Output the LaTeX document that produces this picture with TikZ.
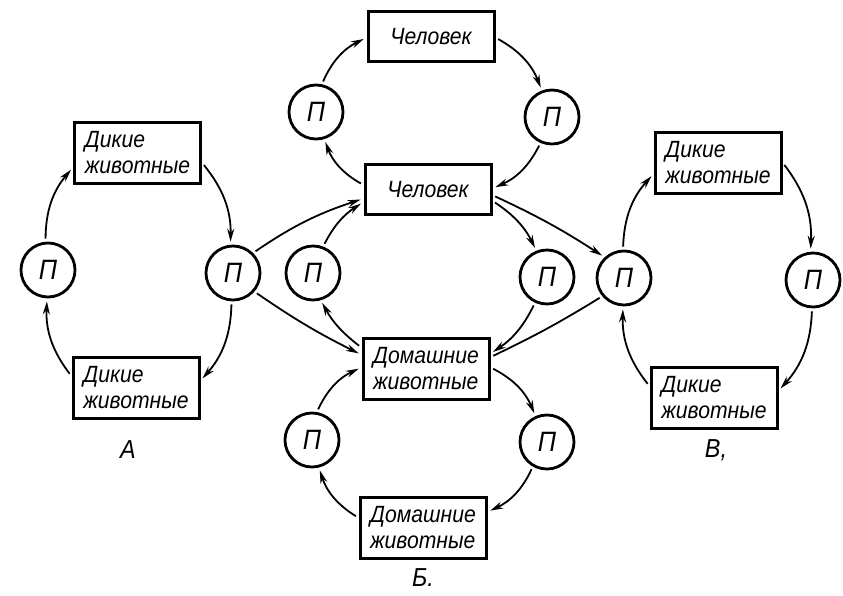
\documentclass[tikz,border=0pt]{standalone}
\usepackage{fontspec}
\usepackage{graphicx}
\setmainfont{Liberation Sans}
\usetikzlibrary{arrows.meta}
\newcommand\cx[1]{\scalebox{0.9}[1]{#1}}
\begin{document}
\begin{tikzpicture}[x=1pt,y=-1pt,
  every node/.style={font=\itshape\fontsize{23.5}{26}\selectfont},
  tbox/.style={draw,line width=3pt,rectangle,minimum width=126pt,minimum height=61pt,align=left,inner sep=0pt},
  tbox1/.style={tbox,minimum height=50pt},
  pcirc/.style={draw,circle,line width=2.8pt,minimum size=54pt,inner sep=0pt,font=\itshape\fontsize{28}{28}\selectfont},
  arr/.style={line width=1.8pt,-{Stealth[length=13pt,width=7pt]},shorten >=3pt,shorten <=3pt},
  plain/.style={line width=1.8pt,shorten >=3pt,shorten <=3pt},
  lbl/.style={font=\itshape\fontsize{26}{26}\selectfont}
]
\useasboundingbox[fill=white] (0,0) rectangle (843,595);

% group A
\node[tbox] (bA1) at (137.5,152.5) {\cx{Дикие}\\\cx{животные}};
\node[tbox] (bA2) at (136,387.5) {\cx{Дикие}\\\cx{животные}};
\node[pcirc] (cA1) at (48,270) {\cx{П}};
\node[pcirc] (cAB) at (233,273) {\cx{П}};
\node[lbl] (lA) at (128,450) {\cx{А}};

% group B
\node[tbox1] (bT) at (431,36.5) {\cx{Человек}};
\node[tbox1] (bM) at (428,189.5) {\cx{Человек}};
\node[tbox] (bD) at (426,368.5) {\cx{Домашние}\\\cx{животные}};
\node[tbox] (bB) at (423,528) {\cx{Домашние}\\\cx{животные}};
\node[pcirc] (cT1) at (316,112) {\cx{П}};
\node[pcirc] (cT2) at (552,117) {\cx{П}};
\node[pcirc] (cM1) at (313,273) {\cx{П}};
\node[pcirc] (cM2) at (547,277) {\cx{П}};
\node[pcirc] (cD1) at (312,440) {\cx{П}};
\node[pcirc] (cD2) at (547,442) {\cx{П}};
\node[lbl] (lB) at (423,578) {\cx{Б.}};

% group V
\node[pcirc] (cBV) at (624,278) {\cx{П}};
\node[pcirc] (cV) at (813,280) {\cx{П}};
\node[tbox] (bV1) at (718,162.5) {\cx{Дикие}\\\cx{животные}};
\node[tbox] (bV2) at (714,397.5) {\cx{Дикие}\\\cx{животные}};
\node[lbl] (lV) at (716,450) {\cx{В,}};

% cycle A
\draw[arr] (cA1.95) to[bend left=20] (bA1.193);
\draw[arr] (bA1.351) to[bend left=20] (cAB.95);
\draw[arr] (cAB.267) to[bend left=20] (bA2.6);
\draw[arr] (bA2.170) to[bend left=20] (cA1.268);

% top cycle
\draw[arr] (bM.176) to[bend left=20] (cT1.287);
\draw[arr] (cT1.78) to[bend left=20] (bT.181);
\draw[arr] (bT.359) to[bend left=20] (cT2.111);
\draw[arr] (cT2.246) to[bend left=20] (bM.1);

% bottom cycle
\draw[arr] (bD.1) to[bend left=20] (cD2.114);
\draw[arr] (cD2.240) to[bend left=20] (bB.14);
\draw[arr] (bB.171) to[bend left=20] (cD1.284);
\draw[arr] (cD1.80) to[bend left=20] (bD.179);

% cross links
\draw[arr] (cAB.45) to[bend left=8] (bM.188);
\draw[arr] (cM1.69) to[bend left=15] (bM.191);
\draw[arr] (cAB.319) to[bend right=4] (bD.168);
\draw[arr] (bD.162) to[bend left=12] (cM1.286);
\draw[arr] (bM.350) to[bend left=15] (cM2.112);
\draw[arr] (bM.355) to[bend left=4] (cBV.133);
\draw[arr] (cM2.245) to[bend left=15] (bD.13);
\draw[plain] (cBV.220) to[bend left=3] (bD.10);

% cycle V
\draw[arr] (cBV.92) to[bend left=20] (bV1.190);
\draw[arr] (bV1.0) to[bend left=20] (cV.95);
\draw[arr] (cV.268) to[bend left=20] (bV2.6);
\draw[arr] (bV2.170) to[bend left=20] (cBV.268);
\end{tikzpicture}
\end{document}
